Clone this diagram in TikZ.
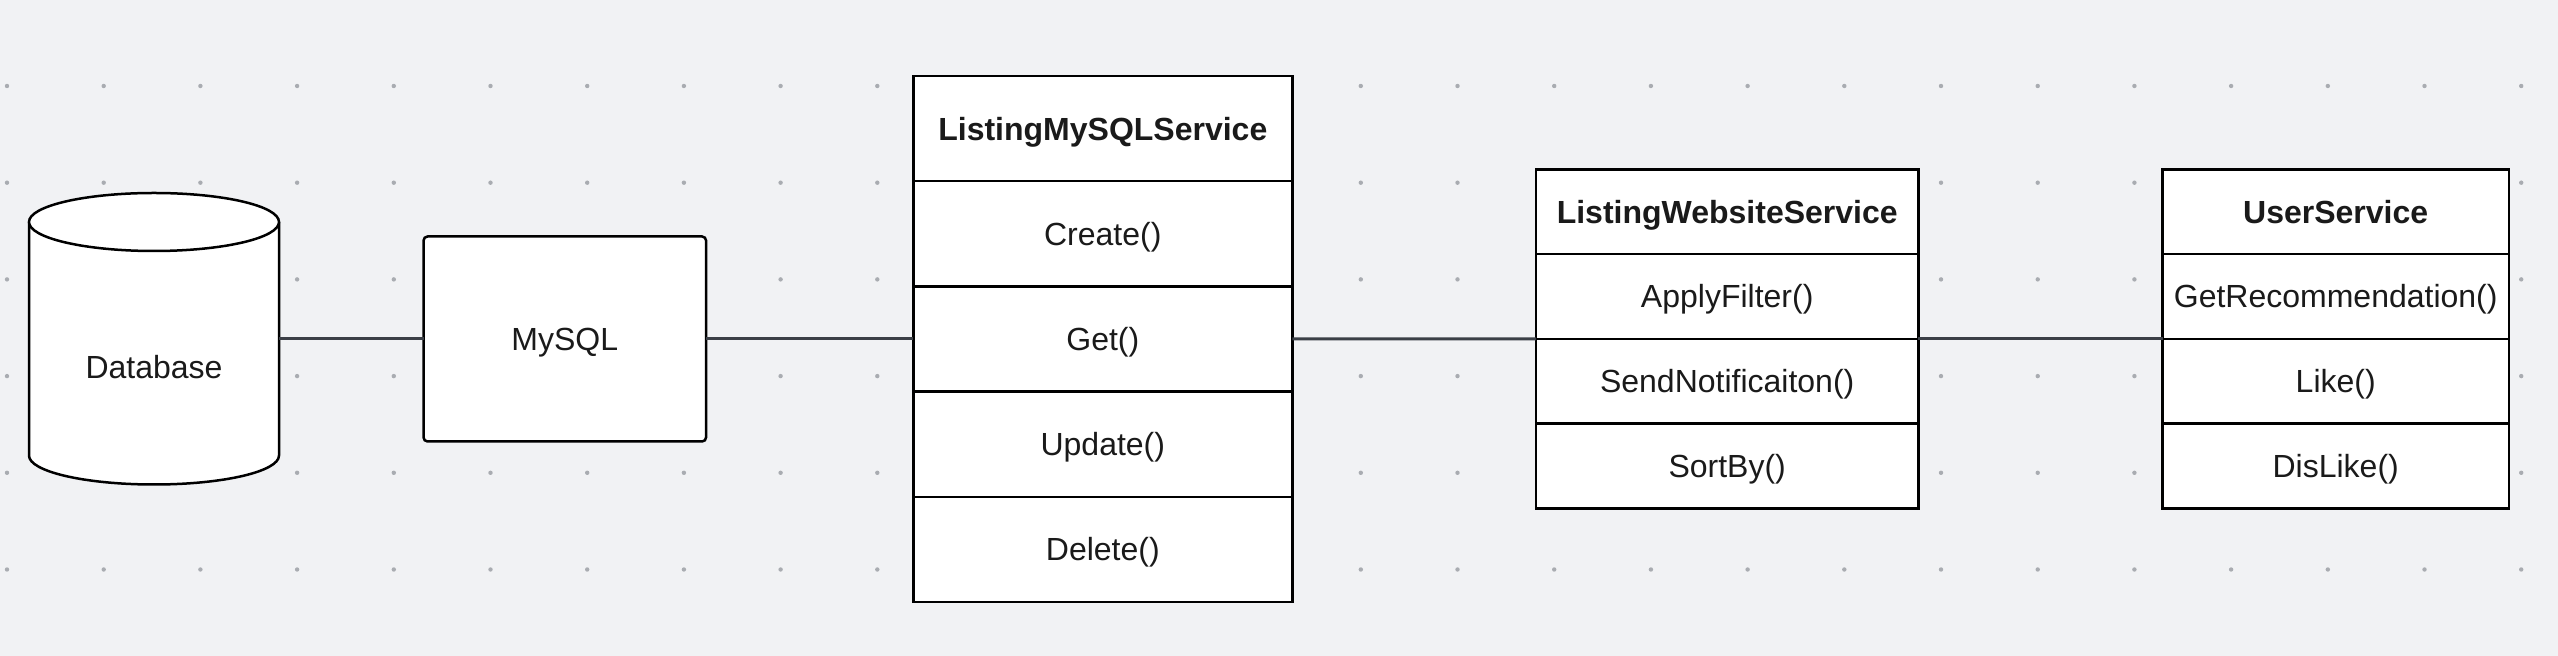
\documentclass[tikz,border=0pt]{standalone}
\usepackage{fontspec}
\setmainfont{Liberation Sans}
\usetikzlibrary{positioning}
\definecolor{canvas}{HTML}{F1F2F4}
\definecolor{griddot}{HTML}{A9ACB1}
\definecolor{wire}{HTML}{3B3F46}
\definecolor{ink}{HTML}{1A1A1A}
\tikzset{
  outline/.style={draw=black, line width=1.25pt},
  label/.style={text=ink, font=\fontsize{16}{19}\selectfont,
    text height=11.5pt, text depth=0pt},
  cell/.style={outline, label, fill=white, inner sep=0pt, outer sep=0pt},
  lmscell/.style={cell, minimum width=189.5pt, minimum height=52.6pt},
  webcell/.style={cell, minimum width=191.2pt, minimum height=42.4pt},
  usercell/.style={cell, minimum width=173.1pt, minimum height=42.4pt},
  head/.style={font=\fontsize{16}{19}\selectfont\bfseries},
  wire/.style={draw=wire, line width=1.5pt}
}
\begin{document}
\begin{tikzpicture}[x=0.5pt,y=0.5pt]
  \useasboundingbox[fill=canvas] (0,0) rectangle (2558,-656);
  % dotted canvas
  \foreach \i in {0,...,26}
    \foreach \j in {0,...,5}
      \fill[griddot] (7+96.7*\i,-86-96.7*\j) circle[radius=1.1pt];
  % database drum
  \draw[outline, fill=white] (29,-222) -- (29,-455.5)
    arc[start angle=180, end angle=360, x radius=62.5pt, y radius=14.5pt]
    -- (279,-222);
  \draw[outline, fill=white] (154,-222) ellipse[x radius=62.5pt, y radius=14.5pt];
  \node[label, minimum width=125pt, inner sep=0pt] (db) at (154,-367) {Database};
  \node[cell, rounded corners=2pt, minimum width=141.25pt, minimum height=102.5pt]
    (sql) at (564.8,-339) {MySQL};
  % ListingMySQLService
  \node[lmscell, head] (lms) at (1102.8,-128.6) {ListingMySQLService};
  \node[lmscell, below=0pt of lms] (create) {Create()};
  \node[lmscell, below=0pt of create] (get) {Get()};
  \node[lmscell, below=0pt of get] (update) {Update()};
  \node[lmscell, below=0pt of update] (delete) {Delete()};
  % ListingWebsiteService
  \node[webcell, head] (web) at (1727.2,-211.7) {ListingWebsiteService};
  \node[webcell, below=0pt of web] (filter) {ApplyFilter()};
  \node[webcell, below=0pt of filter] (notify) {SendNotificaiton()};
  \node[webcell, below=0pt of notify] (sortby) {SortBy()};
  % UserService
  \node[usercell, head] (user) at (2335.7,-211.7) {UserService};
  \node[usercell, below=0pt of user] (recommend) {GetRecommendation()};
  \node[usercell, below=0pt of recommend] (like) {Like()};
  \node[usercell, below=0pt of like] (dislike) {DisLike()};
  \begin{scope}[-]
    \draw[wire] (sql.west -| db.east) to (sql.west);
    \draw[wire] (sql.east) to (get.west);
    \draw[wire] (get.east) to (filter.south west);
    \draw[wire] (filter.south east) to (recommend.south west);
  \end{scope}
\end{tikzpicture}
\end{document}
